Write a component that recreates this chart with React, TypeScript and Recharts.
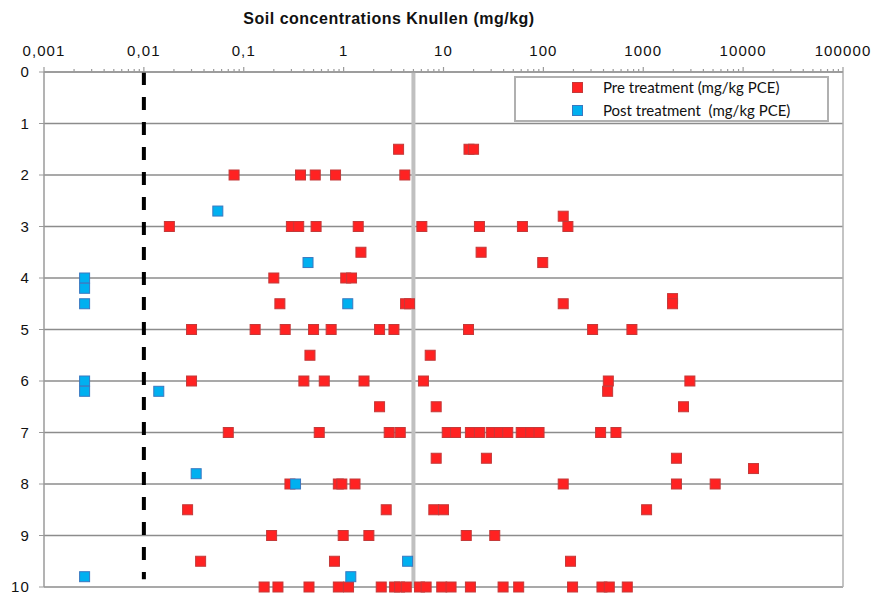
import { ScatterChart, Scatter, XAxis, YAxis, CartesianGrid, ReferenceLine, Legend } from 'recharts';

// [concentration mg/kg, depth]
const PRE_TREATMENT: [number, number][] = [
  [3.55, 1.5], [18, 1.5], [20, 1.5],
  [0.08, 2], [0.37, 2], [0.52, 2], [0.83, 2], [4.1, 2],
  [158, 2.8],
  [0.018, 3], [0.3, 3], [0.355, 3], [0.53, 3], [1.4, 3], [6.07, 3], [22.9, 3], [61.7, 3], [176, 3],
  [1.49, 3.5], [23.8, 3.5],
  [98.5, 3.7],
  [0.2, 4], [1.05, 4], [1.2, 4],
  [1965, 4.4],
  [0.23, 4.5], [4.17, 4.5], [4.57, 4.5], [158, 4.5], [1965, 4.5],
  [0.03, 5], [0.13, 5], [0.26, 5], [0.5, 5], [0.75, 5], [2.29, 5], [3.19, 5], [17.8, 5], [311, 5], [770, 5],
  [0.46, 5.5], [7.36, 5.5],
  [0.03, 6], [0.4, 6], [0.64, 6], [1.6, 6], [6.3, 6], [447, 6], [2930, 6],
  [440, 6.2],
  [2.29, 6.5], [8.45, 6.5], [2530, 6.5],
  [0.07, 7], [0.57, 7], [2.86, 7], [3.69, 7], [10.9, 7], [13.2, 7], [18.6, 7], [22.9, 7], [30, 7],
  [36.3, 7], [44, 7], [60, 7], [74.6, 7], [90.5, 7], [374, 7], [533, 7],
  [8.45, 7.5], [26.9, 7.5], [2150, 7.5],
  [12700, 7.7],
  [0.29, 8], [0.885, 8], [0.96, 8], [1.3, 8], [158, 8], [2150, 8], [5250, 8],
  [0.0274, 8.5], [2.67, 8.5], [8.0, 8.5], [10, 8.5], [1080, 8.5],
  [0.19, 9], [0.99, 9], [1.79, 9], [16.9, 9], [32.6, 9],
  [0.037, 9.5], [0.81, 9.5], [187, 9.5],
  [0.16, 10], [0.22, 10], [0.45, 10], [0.885, 10], [1.12, 10], [2.38, 10], [3.24, 10], [3.63, 10],
  [4.24, 10], [5.75, 10], [6.7, 10], [9.6, 10], [11.9, 10], [18.6, 10], [39.5, 10], [56.6, 10],
  [196, 10], [386, 10], [457, 10], [692, 10],
];

const POST_TREATMENT: [number, number][] = [
  [0.055, 2.7],
  [0.44, 3.7],
  [0.00255, 4], [0.00255, 4.2],
  [0.00255, 4.5], [1.1, 4.5],
  [0.00255, 6],
  [0.00255, 6.2], [0.0141, 6.2],
  [0.0334, 7.8],
  [0.33, 8],
  [4.37, 9.5],
  [0.00255, 9.8], [1.18, 9.8],
];

const DECADES = [0.001, 0.01, 0.1, 1, 10, 100, 1000, 10000, 100000];
const DEPTH_TICKS = [0, 1, 2, 3, 4, 5, 6, 7, 8, 9, 10];
const DETECTION_LIMIT = 0.01;
const TARGET_VALUE = 5;

const X_TICKS: number[] = [];
DECADES.slice(0, -1).forEach((d) => {
  for (let k = 1; k < 10; k++) X_TICKS.push(Number((k * d).toPrecision(3)));
});
X_TICKS.push(100000);

const toPoints = (rows: [number, number][]) => rows.map(([conc, depth]) => ({ conc, depth }));

const fmt = (v: number) => String(v).replace('.', ',');

const AXIS_Y = 72;
const FONT = '"Liberation Sans", Arial, sans-serif';

function TopTick(props: any) {
  const { x, payload } = props;
  const major = DECADES.includes(payload.value);
  return (
    <g>
      <line x1={x} x2={x} y1={AXIS_Y} y2={AXIS_Y - (major ? 5 : 3)} stroke="#9a9a9a" strokeWidth={1.2} />
      {major && (
        <text x={x} y={AXIS_Y - 16} textAnchor="middle" fontSize={15} fill="#111" letterSpacing={1.1} fontFamily={FONT}>
          {fmt(payload.value)}
        </text>
      )}
    </g>
  );
}

const square = (fill: string, stroke: string) => (props: any) => {
  const { cx, cy } = props;
  return <rect x={cx - 5} y={cy - 5} width={10} height={10} fill={fill} stroke={stroke} strokeWidth={1} />;
};

const LEGEND = [
  { name: 'Pre treatment (mg/kg PCE)', fill: '#ff2222', stroke: '#c43a3a' },
  { name: 'Post treatment  (mg/kg PCE)', fill: '#00b0f0', stroke: '#3a78c0' },
];

function LegendBox() {
  return (
    <div
      style={{
        width: 311,
        height: 42,
        border: '2px solid #b0b0b0',
        background: '#fff',
        fontFamily: 'Lato, "Open Sans", sans-serif',
        fontSize: 15,
        color: '#111',
        position: 'relative',
        boxSizing: 'content-box',
      }}
    >
      {LEGEND.map((l, i) => (
        <div key={l.name} style={{ position: 'absolute', left: 56, top: -1 + i * 23, height: 20, display: 'flex', alignItems: 'center', whiteSpace: 'pre' }}>
          <span style={{ width: 9, height: 9, background: l.fill, border: `1px solid ${l.stroke}`, display: 'inline-block', marginRight: 20 }} />
          {l.name}
        </div>
      ))}
    </div>
  );
}

export default function App() {
  return (
    <div style={{ position: 'absolute', left: 0, top: 0, width: 874, height: 593, background: '#fff' }}>
      <div
        style={{
          position: 'absolute',
          left: 389,
          top: 10,
          transform: 'translateX(-50%)',
          fontFamily: FONT,
          fontWeight: 'bold',
          fontSize: 16,
          letterSpacing: 0.5,
          whiteSpace: 'nowrap',
          color: '#111',
        }}
      >
        Soil concentrations Knullen (mg/kg)
      </div>
      <ScatterChart width={874} height={593} margin={{ top: 42, right: 31, bottom: 6, left: 0 }}>
        <CartesianGrid vertical={false} stroke="#8c8c8c" strokeWidth={1.3} />
        <XAxis
          xAxisId={0}
          type="number"
          dataKey="conc"
          scale="log"
          domain={[0.001, 100000]}
          orientation="top"
          height={30}
          ticks={X_TICKS}
          interval={0}
          tick={<TopTick />}
          tickLine={false}
          axisLine={{ stroke: '#9a9a9a', strokeWidth: 1.5 }}
          allowDataOverflow
        />
        <YAxis
          type="number"
          dataKey="depth"
          domain={[0, 10]}
          reversed
          ticks={DEPTH_TICKS}
          interval={0}
          width={44}
          tickSize={5}
          tickMargin={9}
          tick={{ fontSize: 15, fill: '#111', fontFamily: FONT, letterSpacing: 1.1 }}
          tickLine={{ stroke: '#9a9a9a' }}
          axisLine={{ stroke: '#9a9a9a', strokeWidth: 1.5 }}
        />
        <ReferenceLine x={100000} stroke="#b0b0b0" strokeWidth={1.5} />
        <ReferenceLine x={TARGET_VALUE} stroke="#c0c0c0" strokeWidth={4} />
        <ReferenceLine
          segment={[{ x: DETECTION_LIMIT, y: 0 }, { x: DETECTION_LIMIT, y: 9.85 }]}
          stroke="#000"
          strokeWidth={4}
          strokeDasharray="13 12"
        />
        <Legend
          layout="horizontal"
          verticalAlign="middle"
          align="center"
          content={<LegendBox />}
          wrapperStyle={{ position: 'absolute', left: 514, top: 76, width: 315, height: 46 }}
        />
        <Scatter
          name="Pre treatment (mg/kg PCE)"
          data={toPoints(PRE_TREATMENT)}
          shape={square('#ff2222', '#c43a3a')}
          isAnimationActive={false}
        />
        <Scatter
          name="Post treatment  (mg/kg PCE)"
          data={toPoints(POST_TREATMENT)}
          shape={square('#00b0f0', '#3a78c0')}
          isAnimationActive={false}
        />
      </ScatterChart>
    </div>
  );
}
